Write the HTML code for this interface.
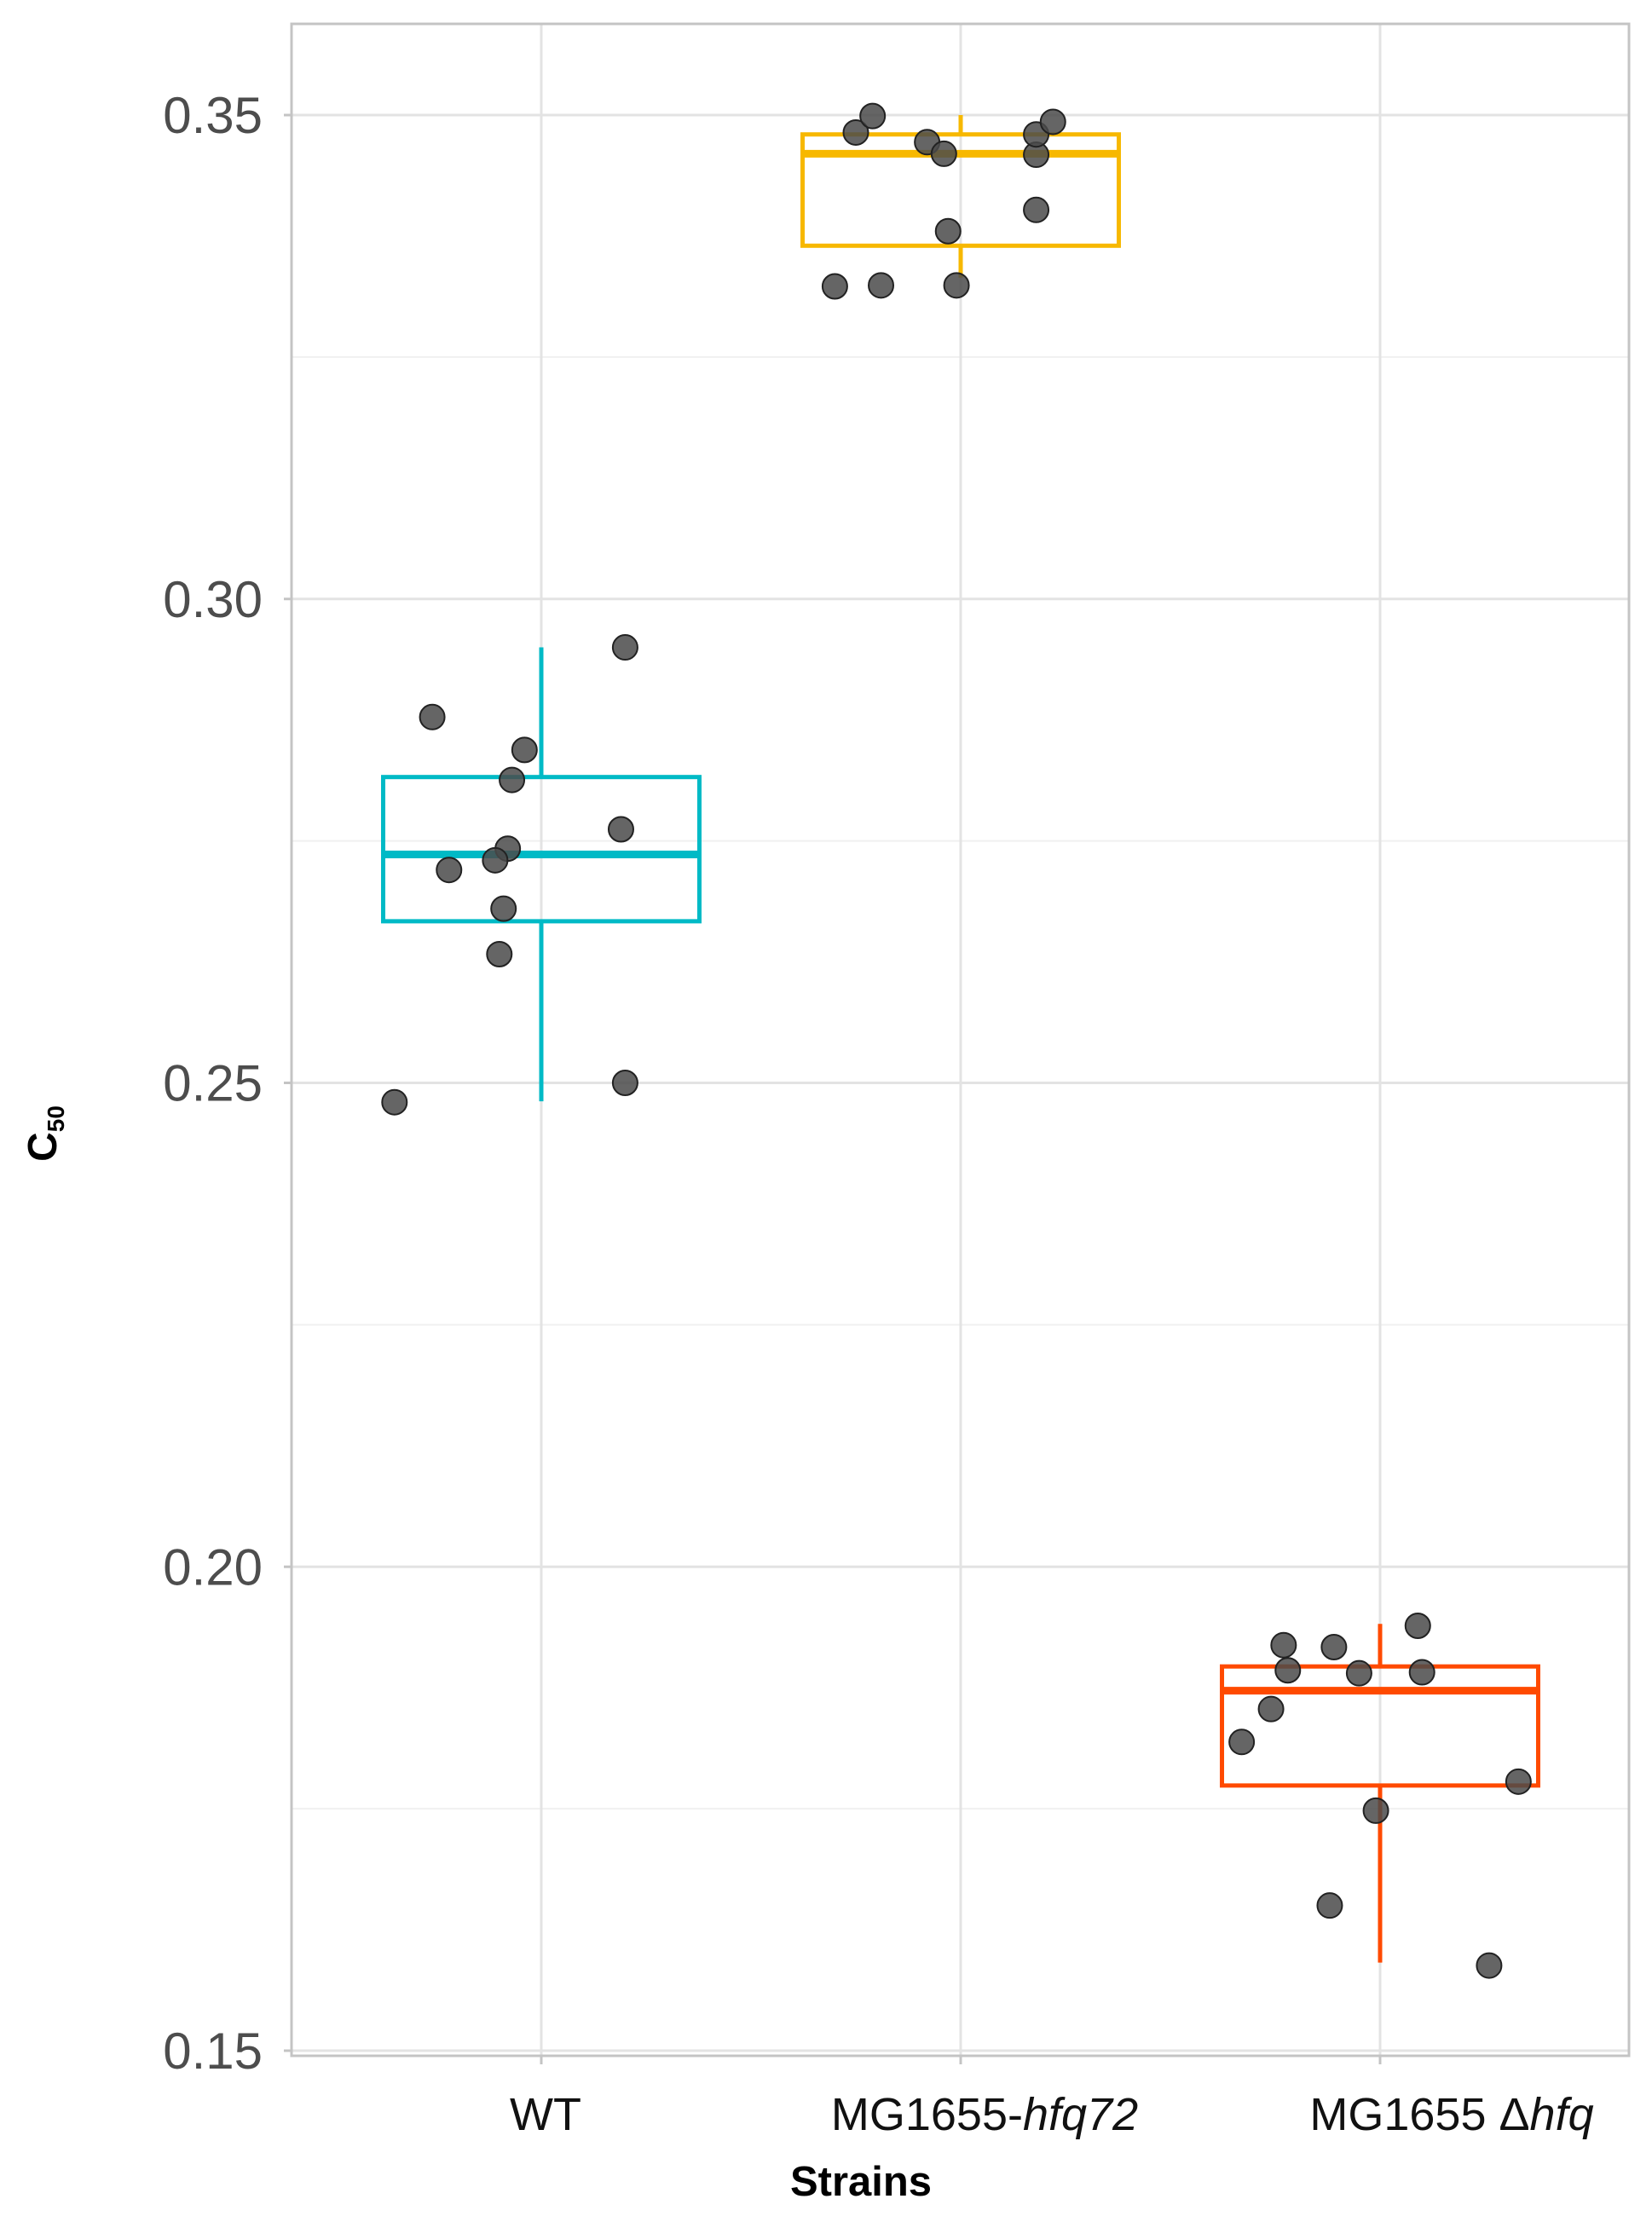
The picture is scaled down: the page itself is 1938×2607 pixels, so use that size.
<!DOCTYPE html>
<html><head><meta charset="utf-8"><style>
html,body{margin:0;padding:0;background:#fff;}
svg{display:block;}
text{font-family:"Liberation Sans",sans-serif;}
</style></head><body>
<svg id="chart" width="1938" height="2607" viewBox="0 0 1938 2607" xmlns="http://www.w3.org/2000/svg"></svg>
<script>
const categories = ["WT", "MG1655-hfq72", "MG1655 Δhfq"];
const boxColors = ["#00BAC6", "#F7B800", "#FF4A00"];
const q3 = [0.2816, 0.3480, 0.1897];
const medians = [0.2736, 0.3460, 0.1872];
const q1 = [0.2667, 0.3365, 0.1774];
const whiskerHi = [0.2950, 0.3500, 0.1941];
const whiskerLo = [0.2481, 0.3332, 0.1591];
const wtValues = [0.2878,0.2720,0.2844,0.2813,0.2742,0.2730,0.2680,0.2633,0.2480,0.2950,0.2762,0.2500];
const wtJitter = [-0.26,-0.22,-0.04,-0.07,-0.08,-0.11,-0.09,-0.10,-0.35,0.20,0.19,0.20];
const hfq72Values = [0.3323,0.3324,0.3324,0.3380,0.3402,0.3482,0.3499,0.3472,0.3460,0.3459,0.3480,0.3493];
const hfq72Jitter = [-0.30,-0.19,-0.01,-0.03,0.18,-0.25,-0.21,-0.08,-0.04,0.18,0.18,0.22];
const dhfqValues = [0.1819,0.1853,0.1919,0.1893,0.1917,0.1890,0.1939,0.1891,0.1748,0.1778,0.1650,0.1588];
const dhfqJitter = [-0.33,-0.26,-0.23,-0.22,-0.11,-0.05,0.09,0.10,-0.01,0.33,-0.12,0.26];
const yTicks = [0.15, 0.20, 0.25, 0.30, 0.35];
const yTickLabels = ["0.15", "0.20", "0.25", "0.30", "0.35"];
const yMinor = [0.175, 0.225, 0.275, 0.325];

const NS = "http://www.w3.org/2000/svg";
const svg = document.getElementById("chart");
const L = 342, R = 1911, T = 28, B = 2412;
function xScale(i){ return 635 + i * 492; }
function yScale(v){ return 2406 - (v - 0.15) / 0.05 * 567.75; }
const catW = 492;
function mk(tag, attrs, parent){
  const e = document.createElementNS(NS, tag);
  for (const k in attrs) e.setAttribute(k, attrs[k]);
  (parent || svg).appendChild(e);
  return e;
}
const grid = mk("g", {});


yMinor.forEach(v => { mk("line", {x1:L, x2:R, y1:yScale(v), y2:yScale(v), stroke:"#f0f0f0", "stroke-width":2}, grid); });
yTicks.forEach(v => { mk("line", {x1:L, x2:R, y1:yScale(v), y2:yScale(v), stroke:"#e3e3e3", "stroke-width":3}, grid); });
categories.forEach((c,i) => { mk("line", {x1:xScale(i), x2:xScale(i), y1:T, y2:B, stroke:"#e3e3e3", "stroke-width":3}, grid); });
const border = mk("rect", {x:L, y:T, width:R-L, height:B-T, fill:"none", stroke:"#c4c4c4", "stroke-width":3});


const yAxis = mk("g", {});


yTicks.forEach((v,i) => {
  mk("line", {x1:L-9, x2:L, y1:yScale(v), y2:yScale(v), stroke:"#c4c4c4", "stroke-width":3}, yAxis);
  const t = mk("text", {x:L-34, y:yScale(v)+21, "text-anchor":"end", "font-size":60, fill:"#4d4d4d"}, yAxis);
  t.textContent = yTickLabels[i];
  
  
});
const xAxis = mk("g", {});


categories.forEach((c,i) => {
  mk("line", {x1:xScale(i), x2:xScale(i), y1:B, y2:B+10, stroke:"#c4c4c4", "stroke-width":3}, xAxis);
});
const allVals = [wtValues, hfq72Values, dhfqValues];
const allJit = [wtJitter, hfq72Jitter, dhfqJitter];
categories.forEach((c,i) => {
  const g = mk("g", {});
  
  
  const cx = xScale(i), hw = 0.377 * catW, col = boxColors[i];
  mk("line", {x1:cx, x2:cx, y1:yScale(whiskerHi[i]), y2:yScale(q3[i]), stroke:col, "stroke-width":5}, g);
  mk("line", {x1:cx, x2:cx, y1:yScale(q1[i]), y2:yScale(whiskerLo[i]), stroke:col, "stroke-width":5}, g);
  mk("rect", {x:cx-hw, y:yScale(q3[i]), width:2*hw, height:yScale(q1[i])-yScale(q3[i]), fill:"none", stroke:col, "stroke-width":5}, g);
  mk("line", {x1:cx-hw, x2:cx+hw, y1:yScale(medians[i]), y2:yScale(medians[i]), stroke:col, "stroke-width":9}, g);
});
categories.forEach((c,i) => {
  const g = mk("g", {});
  
  
  allVals[i].forEach((v,j) => {
    const p = mk("circle", {cx:xScale(i) + allJit[i][j]*catW, cy:yScale(v), r:14.5, fill:"#4a4a4a", "fill-opacity":0.85, stroke:"#222", "stroke-width":2}, g);
    
    
  });
});
</script>
<div style="position:absolute;left:0;top:0;width:1938px;height:2607px;pointer-events:none;">
<svg width="1938" height="2607" xmlns="http://www.w3.org/2000/svg">
  <text x="640" y="2499" text-anchor="middle" font-size="54" fill="#111" font-family="Liberation Sans, sans-serif">WT</text>
  <text x="1155" y="2499" text-anchor="middle" font-size="54" fill="#111" font-family="Liberation Sans, sans-serif">MG1655-<tspan font-style="italic">hfq72</tspan></text>
  <text x="1703" y="2499" text-anchor="middle" font-size="54" fill="#111" font-family="Liberation Sans, sans-serif">MG1655 Δ<tspan font-style="italic">hfq</tspan></text>
  <text x="1010" y="2576" text-anchor="middle" font-size="49" font-weight="bold" fill="#000" font-family="Liberation Sans, sans-serif">Strains</text>
  <text transform="translate(66,1330) rotate(-90)" text-anchor="middle" font-size="48" font-weight="bold" fill="#000" font-family="Liberation Sans, sans-serif">C<tspan font-size="28" dy="9">50</tspan></text>
</svg>
</div>
</body></html>
